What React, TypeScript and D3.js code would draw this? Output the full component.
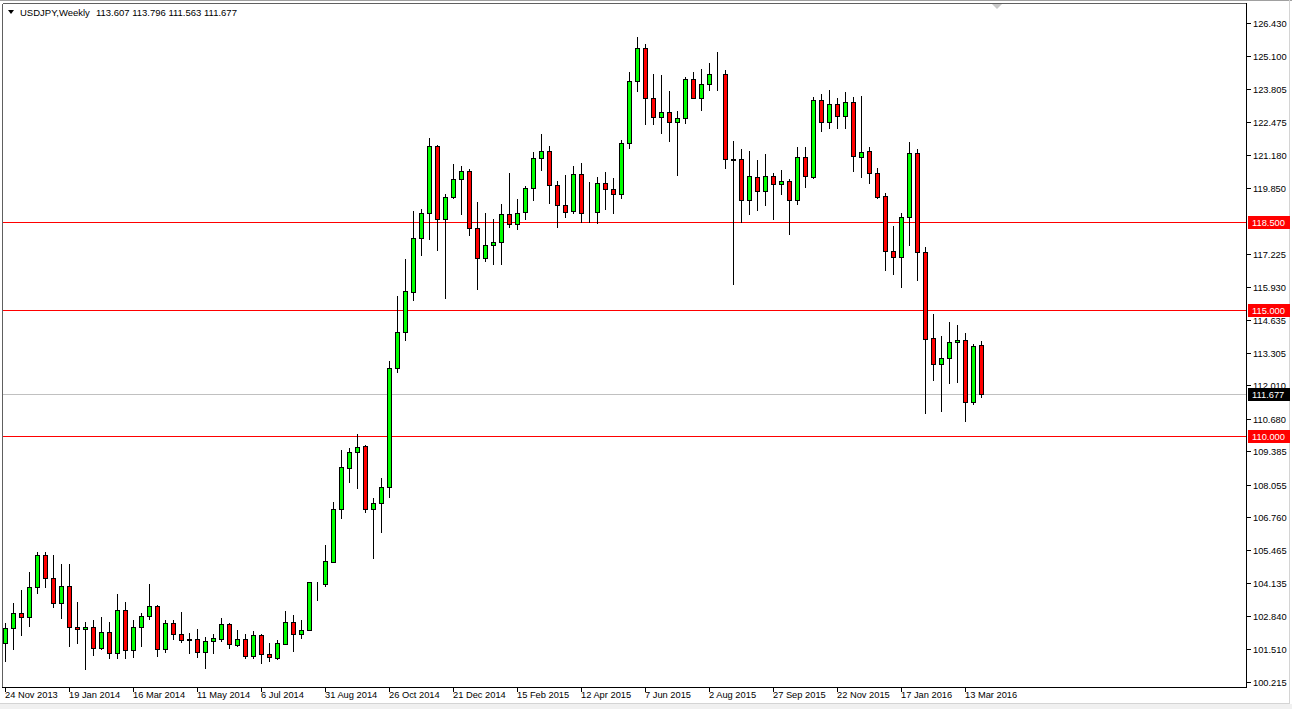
import React from 'react';
import * as d3 from 'd3';

// weekly USDJPY candles, first bar = week of 24 Nov 2013
const startWeek = new Date(2013, 10, 24);

const opens = [
  101.75, 102.35, 102.95, 102.79, 103.98, 105.27, 104.34, 103.35, 104.02, 102.41,
  102.31, 102.39, 101.56, 102.19, 101.36, 103.07, 101.49, 102.39, 102.83, 103.23,
  101.52, 102.55, 102.11, 101.91, 101.91, 101.42, 101.86, 101.93, 102.51, 101.70,
  101.91, 101.26, 102.10, 101.32, 101.18, 101.74, 102.59, 102.11, 102.27, 104.16,
  104.10, 105.00, 107.11, 108.74, 109.35, 109.59, 107.11, 107.32, 107.96, 112.69,
  114.12, 115.74, 117.86, 118.86, 121.54, 118.64, 119.49, 120.21, 120.54, 118.26,
  117.07, 117.59, 117.70, 118.82, 118.43, 118.90, 119.85, 121.05, 121.32, 119.97,
  119.19, 118.96, 120.41, 118.91, 118.92, 120.05, 119.81, 119.61, 121.64, 124.12,
  125.42, 123.43, 122.68, 122.88, 122.48, 122.64, 124.19, 123.46, 123.99, 124.39,
  124.39, 121.01, 121.01, 119.40, 120.29, 119.73, 120.33, 120.04, 120.13, 119.40,
  121.09, 120.30, 123.35, 122.48, 123.19, 122.72, 123.29, 121.11, 121.32, 120.45,
  119.53, 117.35, 117.11, 118.70, 121.25, 117.31, 113.89, 112.88, 113.09, 113.73,
  113.81, 111.34, 113.607,
];

const highs = [
  102.57, 103.37, 103.87, 104.59, 105.40, 105.40, 105.27, 104.91, 104.91, 103.40,
  102.60, 102.68, 102.81, 102.61, 103.72, 103.40, 102.68, 102.96, 104.12, 103.28,
  102.68, 102.68, 103.00, 102.15, 102.31, 101.99, 102.11, 102.75, 102.55, 102.28,
  102.11, 102.24, 102.11, 101.75, 101.89, 103.04, 102.88, 102.68, 104.20, 104.20,
  105.66, 107.36, 109.44, 109.51, 110.08, 109.64, 107.52, 108.32, 112.98, 115.58,
  117.03, 118.95, 119.02, 121.84, 121.56, 119.63, 120.82, 120.74, 120.62, 119.31,
  118.86, 118.63, 119.23, 120.47, 119.42, 119.94, 121.30, 122.01, 121.54, 120.14,
  120.38, 120.74, 120.86, 120.09, 120.30, 120.50, 120.27, 121.77, 124.48, 125.88,
  125.59, 124.41, 124.37, 123.72, 122.93, 124.27, 124.48, 124.60, 124.85, 125.26,
  124.56, 121.75, 121.42, 121.34, 120.98, 121.21, 120.45, 120.58, 120.22, 121.51,
  121.51, 123.50, 123.60, 123.76, 123.46, 123.70, 123.48, 123.52, 121.48, 120.65,
  119.68, 118.35, 118.86, 121.68, 121.40, 117.51, 114.84, 113.98, 114.52, 114.42,
  114.09, 113.65, 113.796,
];

const lows = [
  101.06, 101.54, 102.08, 102.45, 103.74, 104.01, 103.21, 102.75, 101.65, 101.78,
  100.72, 101.30, 101.52, 101.16, 101.16, 101.16, 101.22, 101.65, 102.72, 101.26,
  101.42, 101.91, 101.82, 101.38, 101.22, 100.76, 101.38, 101.85, 101.58, 101.65,
  101.18, 101.18, 100.98, 101.04, 101.14, 101.71, 101.45, 101.98, 102.27, 103.48,
  104.03, 105.00, 106.75, 108.18, 107.94, 106.99, 105.14, 106.19, 107.56, 112.53,
  113.82, 115.41, 117.20, 117.82, 117.40, 115.50, 119.46, 118.83, 118.00, 115.84,
  116.97, 116.84, 116.83, 118.30, 118.22, 118.62, 119.38, 120.58, 119.26, 118.30,
  118.70, 118.88, 118.50, 118.50, 118.46, 119.02, 118.86, 119.48, 121.44, 123.74,
  122.42, 122.40, 122.06, 121.75, 120.39, 122.46, 123.43, 122.97, 123.76, 123.76,
  120.67, 116.05, 118.50, 118.82, 118.99, 119.19, 118.63, 119.61, 118.02, 119.22,
  119.92, 120.27, 122.14, 122.24, 122.24, 122.26, 120.56, 120.31, 120.08, 119.46,
  116.60, 116.44, 115.94, 117.60, 116.21, 110.93, 112.23, 110.99, 112.10, 112.16,
  110.61, 111.27, 111.563,
];

const closes = [
  102.35, 102.95, 102.79, 103.98, 105.27, 104.34, 103.35, 104.02, 102.41, 102.31,
  102.39, 101.56, 102.19, 101.36, 103.07, 101.49, 102.39, 102.83, 103.23, 101.52,
  102.55, 102.11, 101.89, 101.89, 101.42, 101.86, 101.95, 102.51, 101.71, 101.91,
  101.26, 102.10, 101.33, 101.20, 101.75, 102.59, 102.11, 102.27, 104.18, 104.14,
  105.02, 107.11, 108.75, 109.35, 109.56, 107.11, 107.32, 107.96, 112.69, 114.12,
  115.75, 117.86, 118.86, 121.54, 118.64, 119.49, 120.21, 120.54, 118.26, 117.07,
  117.59, 117.70, 118.82, 118.43, 118.86, 119.85, 121.05, 121.32, 119.97, 119.18,
  118.92, 120.41, 118.88, 118.93, 120.05, 119.81, 119.61, 121.64, 124.12, 125.42,
  123.43, 122.68, 122.88, 122.48, 122.64, 124.19, 123.46, 123.99, 124.39, 124.40,
  121.01, 121.00, 119.40, 120.33, 119.73, 120.33, 120.04, 120.13, 119.40, 121.09,
  120.33, 123.35, 122.48, 123.19, 122.72, 123.29, 121.12, 121.29, 120.45, 119.52,
  117.37, 117.11, 118.70, 121.25, 117.31, 113.85, 112.88, 113.09, 113.73, 113.81,
  111.34, 113.57, 111.677,
];

const priceTicks = [
  126.43, 125.1, 123.805, 122.475, 121.18, 119.85, 117.225, 115.93, 114.635, 113.305,
  112.01, 110.68, 109.385, 108.055, 106.76, 105.465, 104.135, 102.84, 101.51, 100.215,
];
const levelLines = [118.5, 115, 110];
const legendOHLC = [113.607, 113.796, 111.563, 111.677];
const lastPrice = 111.677;

const W = 1292;
const H = 709;
const plotLeft = 3;
const plotRight = 1246;
const plotTop = 4;
const plotBottom = 687;
const FONT = "Tahoma, 'Liberation Sans', Arial, sans-serif";

export default function App() {
  const weeks = opens.map((_, i) => d3.timeWeek.offset(startWeek, i));
  const x = d3.scalePoint<Date>().domain(weeks).range([5, 981]);
  const y = d3.scaleLinear().domain([100.215, 126.43]).range([682, 23]);
  const fmtDate = d3.timeFormat('%-d %b %Y');
  const fmtPrice = d3.format('.3f');
  const py = (v: number) => Math.round(y(v));

  const dateTicks = weeks.filter((_, i) => i % 8 === 0);

  return (
    <svg
      width={W}
      height={H}
      style={{ position: 'fixed', left: 0, top: 0, background: '#fff' }}
      fontFamily={FONT}
      shapeRendering="crispEdges"
    >
      <defs>
        <clipPath id="plot">
          <rect x={plotLeft} y={plotTop} width={plotRight - plotLeft} height={plotBottom - plotTop} />
        </clipPath>
      </defs>
      <rect x={0} y={0} width={W} height={H} fill="#fff" />
      {/* window chrome */}
      <line x1={0} x2={W} y1={0.5} y2={0.5} stroke="#a0a0a0" />
      <line x1={1289.5} x2={1289.5} y1={0} y2={704} stroke="#d4d4d4" />
      <rect x={0} y={704} width={W} height={5} fill="#f0f0f0" />
      <line x1={0} x2={1290} y1={703.5} y2={703.5} stroke="#d4d4d4" />

      {/* level lines */}
      <g clipPath="url(#plot)">
        <line
          x1={plotLeft}
          x2={plotRight}
          y1={py(lastPrice) + 0.5}
          y2={py(lastPrice) + 0.5}
          stroke="#c0c0c0"
        />
        {levelLines.map((v) => (
          <line key={v} x1={plotLeft} x2={plotRight} y1={py(v) + 0.5} y2={py(v) + 0.5} stroke="#ff0000" />
        ))}

        {/* candles */}
        {weeks.map((w, i) => {
          const cx = x(w) as number;
          const o = opens[i];
          const c = closes[i];
          const top = py(Math.max(o, c));
          const bot = py(Math.min(o, c));
          const up = c >= o;
          return (
            <g key={i}>
              <line x1={cx + 0.5} x2={cx + 0.5} y1={py(highs[i])} y2={py(lows[i]) + 1} stroke="#000" />
              <rect
                x={cx - 1.5}
                y={top + 0.5}
                width={4}
                height={Math.max(0, bot - top)}
                fill={up ? '#00ff00' : '#ff0000'}
                stroke="#000"
              />
            </g>
          );
        })}
      </g>

      {/* plot frame */}
      <line x1={plotLeft - 0.5} x2={plotLeft - 0.5} y1={plotTop} y2={plotBottom} stroke="#606060" />
      <line x1={plotLeft} x2={plotRight} y1={plotTop - 0.5} y2={plotTop - 0.5} stroke="#606060" />
      <line x1={plotRight + 0.5} x2={plotRight + 0.5} y1={plotTop - 1} y2={plotBottom + 1} stroke="#000" />
      <line x1={plotLeft - 1} x2={plotRight + 1} y1={plotBottom + 0.5} y2={plotBottom + 0.5} stroke="#000" />

      {/* legend */}
      <path d="M8,10 L14,10 L11,14 Z" fill="#000" shapeRendering="auto" />
      <text x={20} y={16} fontSize={9.5} fill="#000">
        <tspan>USDJPY,Weekly</tspan>
        <tspan dx={6}>{legendOHLC.map(fmtPrice).join(' ')}</tspan>
      </text>
      <path d="M992,4 L1002,4 L997,9 Z" fill="#c8c8c8" shapeRendering="auto" />

      {/* price axis */}
      {priceTicks.map((v) => (
        <g key={v}>
          <line x1={plotRight + 1} x2={plotRight + 5} y1={py(v) + 0.5} y2={py(v) + 0.5} stroke="#000" />
          <text x={1253} y={py(v) + 4} fontSize={9.3} fill="#000">
            {fmtPrice(v)}
          </text>
        </g>
      ))}
      {levelLines.map((v) => (
        <g key={'lab' + v}>
          <rect x={plotRight + 2} y={py(v) - 6} width={42} height={13} fill="#ff0000" />
          <text x={1252} y={py(v) + 4} fontSize={9.3} fill="#fff">
            {fmtPrice(v)}
          </text>
        </g>
      ))}
      <rect x={plotRight + 2} y={py(lastPrice) - 6} width={42} height={13} fill="#000" />
      <text x={1252} y={py(lastPrice) + 4} fontSize={9.3} fill="#fff">
        {fmtPrice(lastPrice)}
      </text>

      {/* time axis */}
      {dateTicks.map((w) => {
        const tx = x(w) as number;
        return (
          <g key={+w}>
            <line x1={tx + 0.5} x2={tx + 0.5} y1={plotBottom} y2={plotBottom + 5} stroke="#000" />
            <text x={tx} y={698} fontSize={9.3} fill="#000">
              {fmtDate(w)}
            </text>
          </g>
        );
      })}
    </svg>
  );
}
